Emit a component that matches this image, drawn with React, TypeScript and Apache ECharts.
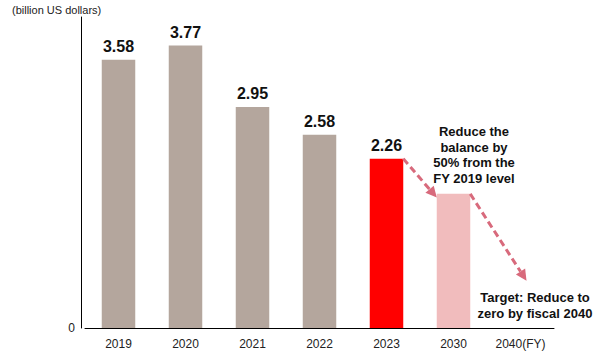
import React, { useEffect, useRef } from "react";
import * as echarts from "echarts";

const categories = ["2019", "2020", "2021", "2022", "2023", "2030", "2040"];
const values: (number | null)[] = [3.58, 3.77, 2.95, 2.58, 2.26, 1.79, null];
const barColors = ["#b4a69d", "#b4a69d", "#b4a69d", "#b4a69d", "#ff0000", "#f1bcbd", "#f1bcbd"];
const showLabel = [true, true, true, true, true, false, false];
// arrows: [fromCategoryIndex, fromValue, toCategoryIndex, toValue]
const arrows = [
  [4, 2.26, 5, 1.74],
  [5, 1.79, 6, 0.63],
];
const unitLabel = "(billion US dollars)";
const note1 = "Reduce the\nbalance by\n50% from the\nFY 2019 level";
const note2 = "Target: Reduce to\nzero by fiscal 2040";

export default function App() {
  const ref = useRef<HTMLDivElement>(null);
  useEffect(() => {
    if (!ref.current) return;
    const chart = echarts.init(ref.current, null, { renderer: "svg" });
    const font = "Arial, 'Liberation Sans', sans-serif";
    chart.setOption({
      animation: false,
      textStyle: { fontFamily: font },
      grid: { left: 85, right: 46, top: 17, bottom: 30, containLabel: false },
      xAxis: {
        type: "category",
        data: categories,
        axisLine: { lineStyle: { color: "#000", width: 1 } },
        axisTick: { show: false },
        axisLabel: {
          color: "#222",
          fontSize: 12,
          margin: 10,
          fontFamily: font,
          formatter: (v: string) => (v === "2040" ? "2040(FY)" : v),
        },
      },
      yAxis: {
        type: "value",
        min: 0,
        max: 4.15,
        offset: 4,
        splitLine: { show: false },
        axisTick: { show: false },
        axisLine: { show: true, lineStyle: { color: "#000", width: 1 } },
        axisLabel: {
          color: "#222",
          fontSize: 12,
          margin: 6,
          fontFamily: font,
          formatter: (v: number) => (v === 0 ? "0" : ""),
        },
      },
      series: [
        {
          type: "bar",
          barWidth: "50%",
          data: values.map((v, i) => ({
            value: v,
            itemStyle: { color: barColors[i] },
            label: {
              show: showLabel[i],
              position: "top",
              distance: 5,
              fontSize: 16,
              fontWeight: "bold",
              color: "#111",
              fontFamily: font,
              formatter: (p: any) => Number(p.value).toFixed(2),
            },
          })),
        },
        {
          type: "custom",
          data: arrows,
          z: 5,
          renderItem: (params: any, api: any) => {
            const half = api.size([1, 0])[0] * 0.25;
            const a = api.coord([api.value(0), api.value(1)]);
            const b = api.coord([api.value(2), api.value(3)]);
            const fromIdx = api.value(0);
            const toIdx = api.value(2);
            const start = [a[0] + half, a[1]];
            const end = toIdx === 6 ? [b[0] + 6, b[1]] : [b[0] - half, b[1]];
            const dx = end[0] - start[0];
            const dy = end[1] - start[1];
            const len = Math.sqrt(dx * dx + dy * dy);
            const ux = dx / len;
            const uy = dy / len;
            const headLen = 11;
            const headW = 5.5;
            const base = [end[0] - ux * headLen, end[1] - uy * headLen];
            const color = "#d86a7c";
            return {
              type: "group",
              children: [
                {
                  type: "line",
                  shape: { x1: start[0], y1: start[1], x2: base[0], y2: base[1] },
                  style: { stroke: color, lineWidth: 3, lineDash: [7, 4] },
                },
                {
                  type: "polygon",
                  shape: {
                    points: [
                      end,
                      [base[0] - uy * headW, base[1] + ux * headW],
                      [base[0] + uy * headW, base[1] - ux * headW],
                    ],
                  },
                  style: { fill: color },
                },
              ],
            };
          },
        },
      ],
      graphic: [
        {
          type: "text",
          left: 12,
          top: 4,
          style: { text: unitLabel, fontSize: 11, fill: "#222", fontFamily: font },
        },
        {
          type: "text",
          x: 474,
          y: 124,
          style: {
            text: note1,
            fontSize: 13,
            fontWeight: "bold",
            fill: "#111",
            align: "center",
            lineHeight: 15.5,
            fontFamily: font,
          },
        },
        {
          type: "text",
          x: 535,
          y: 290,
          style: {
            text: note2,
            fontSize: 13,
            fontWeight: "bold",
            fill: "#111",
            align: "center",
            lineHeight: 15.5,
            fontFamily: font,
          },
        },
      ],
    });
    return () => chart.dispose();
  }, []);
  return (
    <div
      ref={ref}
      style={{ position: "fixed", left: 0, top: 0, width: 600, height: 358, background: "#fff" }}
    />
  );
}
